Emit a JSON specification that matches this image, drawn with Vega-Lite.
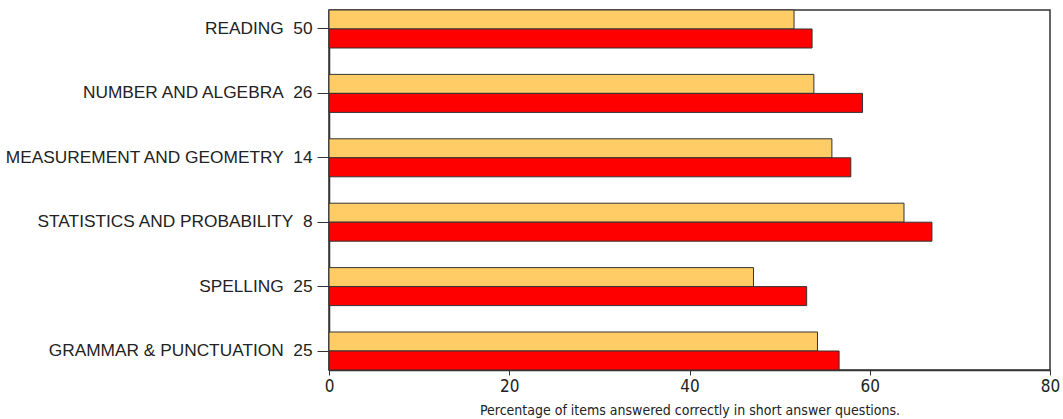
{
  "$schema": "https://vega.github.io/schema/vega-lite/v6.json",
  "autosize": {"type": "none"},
  "width": 721,
  "height": 360,
  "padding": {"left": 329, "top": 10, "right": 13, "bottom": 49},
  "background": "white",
  "data": {
    "values": [
      {"area": "READING\u00a0\u00a050", "order": 1, "series": "A", "pct": 51.6},
      {"area": "READING\u00a0\u00a050", "order": 1, "series": "B", "pct": 53.6},
      {"area": "NUMBER AND ALGEBRA\u00a0\u00a026", "order": 2, "series": "A", "pct": 53.8},
      {"area": "NUMBER AND ALGEBRA\u00a0\u00a026", "order": 2, "series": "B", "pct": 59.2},
      {"area": "MEASUREMENT AND GEOMETRY\u00a0\u00a014", "order": 3, "series": "A", "pct": 55.8},
      {"area": "MEASUREMENT AND GEOMETRY\u00a0\u00a014", "order": 3, "series": "B", "pct": 57.9},
      {"area": "STATISTICS AND PROBABILITY\u00a0\u00a08", "order": 4, "series": "A", "pct": 63.8},
      {"area": "STATISTICS AND PROBABILITY\u00a0\u00a08", "order": 4, "series": "B", "pct": 66.9},
      {"area": "SPELLING\u00a0\u00a025", "order": 5, "series": "A", "pct": 47.1},
      {"area": "SPELLING\u00a0\u00a025", "order": 5, "series": "B", "pct": 53.0},
      {"area": "GRAMMAR & PUNCTUATION\u00a0\u00a025", "order": 6, "series": "A", "pct": 54.2},
      {"area": "GRAMMAR & PUNCTUATION\u00a0\u00a025", "order": 6, "series": "B", "pct": 56.6}
    ]
  },
  "mark": {"type": "bar", "stroke": "#333333", "strokeWidth": 1},
  "encoding": {
    "y": {
      "field": "area",
      "type": "nominal",
      "sort": {"field": "order", "op": "min"},
      "scale": {"paddingInner": 0.41, "paddingOuter": 0},
      "axis": {
        "title": null,
        "labelFont": "Liberation Sans",
        "labelFontSize": 17.3,
        "labelColor": "#222222",
        "labelPadding": 5,
        "labelLimit": 0,
        "tickSize": 12,
        "tickColor": "#333333",
        "domainColor": "#333333",
        "domainWidth": 1.5
      }
    },
    "yOffset": {
      "field": "series",
      "type": "nominal",
      "sort": ["A", "B"],
      "scale": {"paddingInner": 0, "paddingOuter": 0}
    },
    "x": {
      "field": "pct",
      "type": "quantitative",
      "scale": {"domain": [0, 80], "nice": false},
      "axis": {
        "values": [0, 20, 40, 60, 80],
        "grid": false,
        "title": "Percentage of items answered correctly in short answer questions.",
        "titleFont": "DejaVu Sans Condensed, Liberation Sans",
        "titleFontSize": 14,
        "titleFontWeight": "normal",
        "titleColor": "#222222",
        "titlePadding": 9,
        "labelFont": "DejaVu Sans Condensed, Liberation Sans",
        "labelFontSize": 17,
        "labelColor": "#222222",
        "labelPadding": 3,
        "labelFlush": false,
        "tickSize": 5,
        "tickColor": "#333333",
        "domainColor": "#333333",
        "domainWidth": 1.5
      }
    },
    "color": {
      "field": "series",
      "type": "nominal",
      "scale": {"domain": ["A", "B"], "range": ["#FFCC66", "#FF0000"]},
      "legend": null
    }
  },
  "config": {
    "view": {"stroke": "#333333", "strokeWidth": 1.5}
  }
}
